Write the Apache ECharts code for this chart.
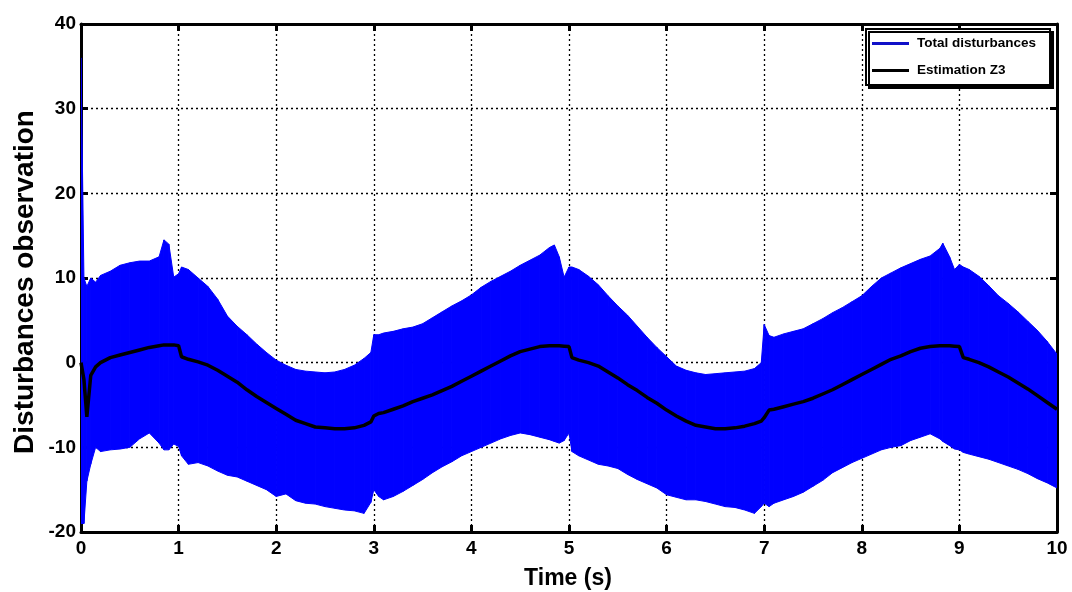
<!DOCTYPE html>
<html><head><meta charset="utf-8">
<script src="https://cdn.jsdelivr.net/npm/echarts@6/dist/echarts.min.js"></script>
<style>html,body{margin:0;padding:0;background:#fff}#c{width:1072px;height:592px}</style>
</head><body><div id="c"></div>
<script>
// time (s)
const time = [0, 0.03, 0.06, 0.1, 0.15, 0.2, 0.3, 0.4, 0.5, 0.6, 0.7, 0.8, 0.85, 0.9, 0.95, 1.0, 1.03, 1.1, 1.2, 1.3, 1.4, 1.5, 1.6, 1.7, 1.8, 1.9, 2.0, 2.1, 2.2, 2.3, 2.4, 2.5, 2.6, 2.7, 2.8, 2.9, 2.97, 3.0, 3.05, 3.1, 3.2, 3.3, 3.4, 3.5, 3.6, 3.7, 3.8, 3.9, 4.0, 4.1, 4.2, 4.3, 4.4, 4.5, 4.6, 4.7, 4.8, 4.85, 4.9, 4.95, 5.0, 5.03, 5.1, 5.2, 5.3, 5.4, 5.5, 5.6, 5.7, 5.8, 5.9, 6.0, 6.1, 6.2, 6.3, 6.4, 6.5, 6.6, 6.7, 6.8, 6.9, 6.97, 7.0, 7.05, 7.1, 7.2, 7.3, 7.4, 7.5, 7.6, 7.7, 7.8, 7.9, 8.0, 8.1, 8.2, 8.3, 8.4, 8.5, 8.6, 8.7, 8.8, 8.83, 8.9, 8.95, 9.0, 9.04, 9.1, 9.2, 9.3, 9.4, 9.5, 9.6, 9.7, 9.8, 9.9, 10.0];
// Total disturbances: upper / lower envelope of the fast oscillation
const upperEnvelope = [36, 10, 9, 10, 9.5, 10.3, 10.8, 11.5, 11.8, 12, 12, 12.5, 14.5, 14, 10.1, 10.5, 11.3, 11, 10, 9, 7.5, 5.5, 4.3, 3.3, 2.2, 1.2, 0.3, -0.3, -0.8, -1, -1.1, -1.2, -1.1, -0.8, -0.3, 0.5, 1.2, 3.3, 3.3, 3.5, 3.7, 4.0, 4.2, 4.6, 5.3, 6.0, 6.7, 7.3, 8.0, 8.9, 9.6, 10.2, 10.8, 11.5, 12.1, 12.7, 13.6, 13.9, 12.5, 10.1, 11.3, 11.3, 11.0, 10.2, 9.2, 7.9, 6.7, 5.6, 4.3, 3.0, 1.8, 0.7, -0.4, -0.9, -1.2, -1.4, -1.3, -1.2, -1.1, -1.0, -0.7, 0, 4.5, 3.2, 3.0, 3.4, 3.7, 4.0, 4.6, 5.2, 5.9, 6.5, 7.2, 7.9, 9.0, 10.0, 10.6, 11.2, 11.7, 12.2, 12.6, 13.5, 14.1, 12.5, 11.0, 11.6, 11.3, 11.0, 10.2, 9.1, 7.9, 7.0, 6.0, 4.9, 3.8, 2.5, 1.0];
const lowerEnvelope = [-19, -19, -14, -12, -10, -10.5, -10.3, -10.2, -10, -9, -8.3, -9.5, -10.3, -10.3, -9.6, -9.9, -11, -12, -11.8, -12.2, -12.8, -13.3, -13.5, -14, -14.5, -15, -15.8, -15.5, -16.3, -16.6, -16.7, -17, -17.2, -17.4, -17.5, -17.8, -16.5, -15, -15.8, -16.2, -15.8, -15.2, -14.5, -13.8, -13.0, -12.3, -11.7, -11, -10.5, -10, -9.5, -9.0, -8.6, -8.3, -8.5, -8.8, -9.1, -9.3, -9.5, -9.2, -8.3, -10.5, -11.0, -11.5, -12.0, -12.2, -12.5, -13.2, -13.8, -14.3, -14.8, -15.6, -15.9, -16.2, -16.2, -16.4, -16.7, -17, -17.1, -17.4, -17.8, -17, -16.6, -17, -16.6, -16.2, -15.8, -15.3, -14.6, -13.9, -13.0, -12.4, -11.8, -11.3, -10.8, -10.3, -10.0, -9.8, -9.2, -8.8, -8.4, -9.0, -9.3, -9.8, -10.2, -10.3, -10.6, -10.8, -11.1, -11.4, -11.8, -12.2, -12.6, -13.1, -13.7, -14.2, -14.8];
// Estimation Z3
const estimationZ3 = [0, -2, -6.4, -1.5, -0.5, 0, 0.6, 0.9, 1.2, 1.5, 1.8, 2.0, 2.1, 2.1, 2.1, 2.0, 0.7, 0.4, 0.1, -0.3, -0.9, -1.6, -2.3, -3.2, -4.0, -4.7, -5.4, -6.1, -6.8, -7.2, -7.6, -7.7, -7.8, -7.8, -7.7, -7.4, -7.0, -6.3, -6.0, -5.9, -5.5, -5.1, -4.6, -4.2, -3.8, -3.3, -2.8, -2.2, -1.6, -1.0, -0.4, 0.2, 0.8, 1.3, 1.6, 1.9, 2.0, 2.0, 2.0, 1.95, 1.9, 0.6, 0.3, 0, -0.4, -1.1, -1.8, -2.6, -3.3, -4.1, -4.8, -5.6, -6.3, -6.9, -7.4, -7.6, -7.8, -7.8, -7.7, -7.5, -7.2, -6.9, -6.5, -5.6, -5.5, -5.2, -4.9, -4.6, -4.2, -3.7, -3.2, -2.6, -2.0, -1.4, -0.8, -0.2, 0.4, 0.8, 1.3, 1.7, 1.9, 2.0, 2.0, 2.0, 1.95, 1.9, 0.6, 0.4, 0, -0.5, -1.1, -1.7, -2.4, -3.1, -3.9, -4.7, -5.5];
const xTicks = [0, 10, 1];      // min, max, interval
const yTicks = [-20, 40, 10];   // min, max, interval
const seriesNames = ['Total disturbances', 'Estimation Z3'];
const axisTitles = ['Time (s)', 'Disturbances observation'];

const FONT = '"Liberation Sans", Arial, sans-serif';
// band segments: [t0, lower0, upper0, t1, lower1, upper1]
const bandData = [];
for (let i = 0; i < time.length - 1; i++) {
  bandData.push([time[i], lowerEnvelope[i], upperEnvelope[i], time[i + 1], lowerEnvelope[i + 1], upperEnvelope[i + 1]]);
}
const estData = time.map((t, i) => [t, estimationZ3[i]]);

const BLUE = '#0000ff';
const gridLine = { show: true, lineStyle: { color: '#000', type: [2, 3], width: 1.3 } };
const axLine = { show: true, onZero: false, lineStyle: { color: '#000', width: 3 } };
const axTick = { show: true, inside: true, length: 7, lineStyle: { color: '#000', width: 3 } };

const chart = echarts.init(document.getElementById('c'), null, { renderer: 'canvas' });
chart.setOption({
  animation: false,
  backgroundColor: '#fff',
  grid: { left: 81, right: 15, top: 24, bottom: 60, containLabel: false },
  xAxis: [
    { type: 'value', min: xTicks[0], max: xTicks[1], interval: xTicks[2], position: 'bottom',
      axisLine: axLine, axisTick: axTick, splitLine: gridLine,
      axisLabel: { color: '#000', fontFamily: FONT, fontWeight: 'bold', fontSize: 19, margin: 7 } },
    { type: 'value', min: xTicks[0], max: xTicks[1], interval: xTicks[2], position: 'top',
      axisLine: axLine, axisTick: axTick, splitLine: { show: false }, axisLabel: { show: false } }
  ],
  yAxis: [
    { type: 'value', min: yTicks[0], max: yTicks[1], interval: yTicks[2], position: 'left',
      axisLine: axLine, axisTick: axTick, splitLine: gridLine,
      axisLabel: { color: '#000', fontFamily: FONT, fontWeight: 'bold', fontSize: 19, margin: 5 } },
    { type: 'value', min: yTicks[0], max: yTicks[1], interval: yTicks[2], position: 'right',
      axisLine: axLine, axisTick: axTick, splitLine: { show: false }, axisLabel: { show: false } }
  ],
  legend: {
    orient: 'vertical', left: 866, top: 29,
    data: [
      { name: seriesNames[0], itemStyle: { color: '#1010c8' } },
      { name: seriesNames[1], itemStyle: { color: '#000' } }
    ],
    icon: 'rect', itemWidth: 37, itemHeight: 3, itemGap: 10,
    padding: [6, 14, 6, 6],
    backgroundColor: '#fff', borderColor: '#000', borderWidth: 2,
    shadowColor: '#000', shadowOffsetX: 3, shadowOffsetY: 3, shadowBlur: 0,
    textStyle: { color: '#000', fontFamily: '"Liberation Sans Narrow", ' + FONT, fontWeight: 'bold', fontSize: 13.5, lineHeight: 17, padding: [0, 0, 0, 3] }
  },
  graphic: [
    { type: 'text', x: 568, y: 579, style: { text: axisTitles[0], fill: '#000', font: 'bold 23px ' + FONT, textAlign: 'center', textVerticalAlign: 'middle' } },
    { type: 'text', x: 25, y: 282, rotation: Math.PI / 2, style: { text: axisTitles[1], fill: '#000', font: 'bold 28px ' + FONT, textAlign: 'center', textVerticalAlign: 'middle' } }
  ],
  series: [
    { name: seriesNames[0], type: 'custom', data: bandData, clip: true, z: 2,
      itemStyle: { color: BLUE },
      encode: { x: [0, 3], y: [1, 2, 4, 5] },
      renderItem: function (params, api) {
        const a = api.coord([api.value(0), api.value(1)]);
        const b = api.coord([api.value(3), api.value(4)]);
        const c = api.coord([api.value(3), api.value(5)]);
        const d = api.coord([api.value(0), api.value(2)]);
        return { type: 'polygon', shape: { points: [a, b, c, d] },
          style: { fill: BLUE, stroke: BLUE, lineWidth: 1 } };
      } },
    { name: seriesNames[1], type: 'line', data: estData, symbol: 'none',
      lineStyle: { color: '#000', width: 3.5 }, itemStyle: { color: '#000' }, z: 3 }
  ]
});
</script>
</body></html>
